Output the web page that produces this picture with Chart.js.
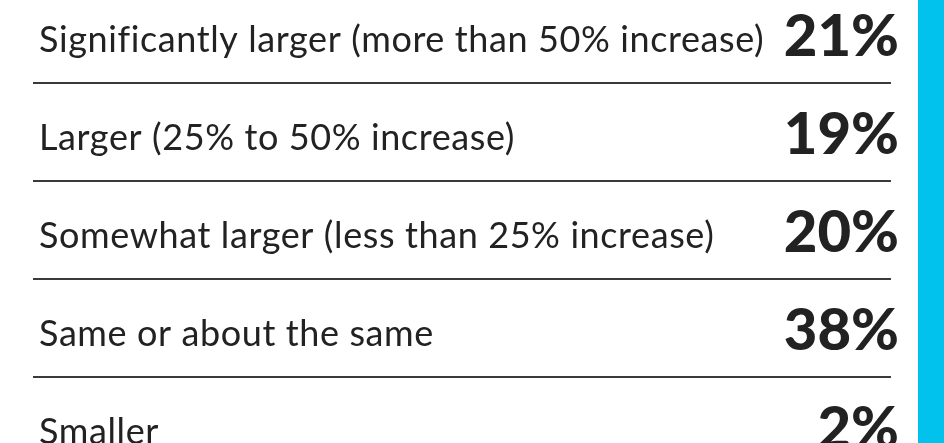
<!DOCTYPE html>
<html>
<head>
<meta charset="utf-8">
<script src="https://cdn.jsdelivr.net/npm/chart.js@4.4.1/dist/chart.umd.min.js"></script>
<style>
  html, body { margin: 0; padding: 0; background: #fff; overflow: hidden; }
  body { width: 944px; height: 443px; position: relative; }
  #wrap { position: absolute; left: 0; top: -15px; width: 918px; height: 490px; }
  #side { position: absolute; left: 918px; top: 0; width: 26px; height: 443px; background: #00c2ec; }
</style>
</head>
<body>
<div id="wrap"><canvas id="chart"></canvas></div>
<div id="side"></div>
<script>
const categories = [
  'Significantly larger (more than 50% increase)',
  'Larger (25% to 50% increase)',
  'Somewhat larger (less than 25% increase)',
  'Same or about the same',
  'Smaller'
];
const shares = [21, 19, 20, 38, 2];

const ctx = document.getElementById('chart');

// writes the label on the left and the big percentage on the right of each row
const rowText = {
  id: 'rowText',
  afterDraw(chart) {
    const c = chart.ctx;
    const y = chart.scales.y;
    const area = chart.chartArea;
    c.save();
    c.fillStyle = '#222';
    c.textBaseline = 'middle';
    shares.forEach((v, i) => {
      const py = y.getPixelForValue(i);
      c.font = '400 36px Lato';
      c.letterSpacing = '0.6px';
      c.textAlign = 'left';
      c.fillText(categories[i], area.left + 6, py + 6);
      c.font = '900 58px Lato';
      c.letterSpacing = '0px';
      c.textAlign = 'right';
      c.fillText(v + '%', area.right + 8, py + 3);
    });
    c.restore();
  }
};

new Chart(ctx, {
  type: 'bar',
  data: {
    labels: categories,
    datasets: [{
      label: 'Share',
      data: shares,
      backgroundColor: 'rgba(0,0,0,0)',
      borderWidth: 0
    }]
  },
  options: {
    indexAxis: 'y',
    responsive: true,
    maintainAspectRatio: false,
    animation: false,
    layout: { padding: { left: 33, right: 27, top: 0, bottom: 0 } },
    plugins: {
      legend: { display: false },
      tooltip: { enabled: false }
    },
    scales: {
      x: {
        display: false,
        min: 0,
        max: 40
      },
      y: {
        offset: true,
        border: { display: false },
        grid: {
          offset: true,
          color: (c) => (c.index === 0 ? 'rgba(0,0,0,0)' : '#3a3a3a'),
          lineWidth: 2,
          drawTicks: false
        },
        ticks: { display: false }
      }
    }
  },
  plugins: [rowText]
});
</script>
</body>
</html>
